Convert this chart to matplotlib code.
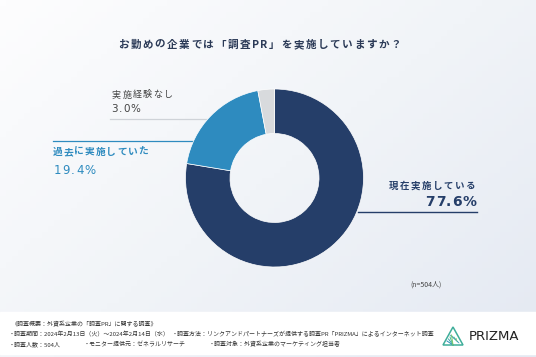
import numpy as np
import matplotlib
matplotlib.use("Agg")
import matplotlib.pyplot as plt
from matplotlib.colors import LinearSegmentedColormap
from matplotlib.patches import Polygon

plt.rcParams['font.family'] = ['Noto Sans CJK JP', 'DejaVu Sans']

# data
labels = ["現在実施している", "過去に実施していた", "実施経験なし"]
shares = [77.6, 19.4, 3.0]
colors = ["#253e69", "#2e8bbf", "#d8dadd"]

title = "お勤めの企業では「調査PR」を実施していますか？"
n_note = "(n=504人)"
footer_lines = [
    [(12, "《調査概要：外資系企業の「調査PR」に関する調査》")],
    [(9, "・調査期間：2024年2月13日（火）～2024年2月14日（水）"),
     (172, "・調査方法：リンクアンドパートナーズが提供する調査PR「PRIZMA」によるインターネット調査")],
    [(9, "・調査人数：504人"), (84, "・モニター提供元：ゼネラルリサーチ"),
     (209, "・調査対象：外資系企業のマーケティング担当者")],
]

W, H = 536, 357
fig = plt.figure(figsize=(W / 100, H / 100), dpi=100)

# background: pixel-coordinate axes
bg = fig.add_axes([0, 0, 1, 1])
bg.set_xlim(0, W)
bg.set_ylim(H, 0)
bg.axis("off")
yy, xx = np.mgrid[0:1:60j, 0:1:90j]
grad = np.clip(0.55 * xx + 0.45 * yy, 0, 1)
cmap = LinearSegmentedColormap.from_list("bg", ["#fdfdfe", "#f1f4f8", "#e4e9f2"])
bg.imshow(grad, cmap=cmap, extent=(0, W, H, 0), aspect="auto", zorder=0)

renderer = fig.canvas.get_renderer()


def spaced(x, y, s, track, ha="left", **kw):
    # draw text char by char with extra letter spacing (pixels)
    widths = []
    for ch in s:
        t = bg.text(0, 0, ch, **kw)
        widths.append(t.get_window_extent(renderer).width)
        t.remove()
    total = sum(widths) + track * (len(s) - 1)
    pos = {"left": x, "right": x - total, "center": x - total / 2}[ha]
    for ch, w in zip(s, widths):
        bg.text(pos, y, ch, ha="left", va="center", zorder=3, **kw)
        pos += w + track


# footer band
bg.add_patch(plt.Rectangle((0, 312), W, 42, color="white", zorder=1))
for row, y in zip(footer_lines, [324, 334, 344]):
    for x, s in row:
        bg.text(x, y, s, fontsize=4.3, color="#333333", va="center", ha="left", zorder=2)

# PRIZMA logo
tri = [(443, 345), (453, 327), (463, 345)]
bg.add_patch(Polygon(tri, closed=True, fill=False, edgecolor="#3fae9a", lw=1.1, zorder=2))
for k, c in enumerate(["#2c8fb8", "#35a3a8", "#4bb88f", "#7cc96a"]):
    bg.plot([447 + k * 1.5, 453], [341 - k * 2, 345], color=c, lw=0.7, zorder=2)
    bg.plot([450 + k * 2, 459 - k], [335 + k, 343 - k], color=c, lw=0.5, zorder=2)
bg.text(469, 336, "PRIZMA", fontsize=9.5, color="#222222", va="center", ha="left",
        family=["DejaVu Sans"], zorder=2)

# title
spaced(259.5, 45, title, 1.6, ha="center", fontsize=7.6, fontweight="bold", color="#2b3a57")

# donut
cx, cy, r = 274.5, 178, 89
pie_ax = fig.add_axes([(cx - r) / W, (H - cy - r) / H, 2 * r / W, 2 * r / H])
pie_ax.pie(shares, colors=colors, startangle=90, counterclock=False, radius=1,
           wedgeprops=dict(width=0.5, edgecolor="white", linewidth=0.5))
pie_ax.set_xlim(-1, 1)
pie_ax.set_ylim(-1, 1)
pie_ax.axis("off")

# leader lines and labels
bg.plot([110, 263], [118.5, 118.5], color="#cfd3d8", lw=0.9, zorder=3)
bg.plot([53, 193], [141, 141], color="#2e8bbf", lw=0.9, zorder=3)
bg.plot([358, 477], [212, 212], color="#253e69", lw=1.0, zorder=3)

spaced(112, 95, labels[2], 1.3, fontsize=6.5, color="#444444")
spaced(111, 109, f"{shares[2]:.1f}%", 1.0, fontsize=7.5, color="#444444", family=["DejaVu Sans"])
spaced(53, 152, labels[1], 0.9, fontsize=7, color="#2e8bbf", fontweight="bold")
spaced(54, 170, f"{shares[1]:.1f}%", 1.1, fontsize=8.5, color="#2e8bbf", family=["DejaVu Sans"])
spaced(475, 186, labels[0], 1.4, ha="right", fontsize=6.8, color="#253e69", fontweight="bold")
spaced(476, 202, f"{shares[0]:.1f}%", 0.6, ha="right", fontsize=10, color="#253e69",
       fontweight="bold", family=["DejaVu Sans"])

bg.text(410, 285, n_note, fontsize=5, color="#444444", ha="left", va="center", zorder=3)

fig.savefig("out.png", dpi=100)
